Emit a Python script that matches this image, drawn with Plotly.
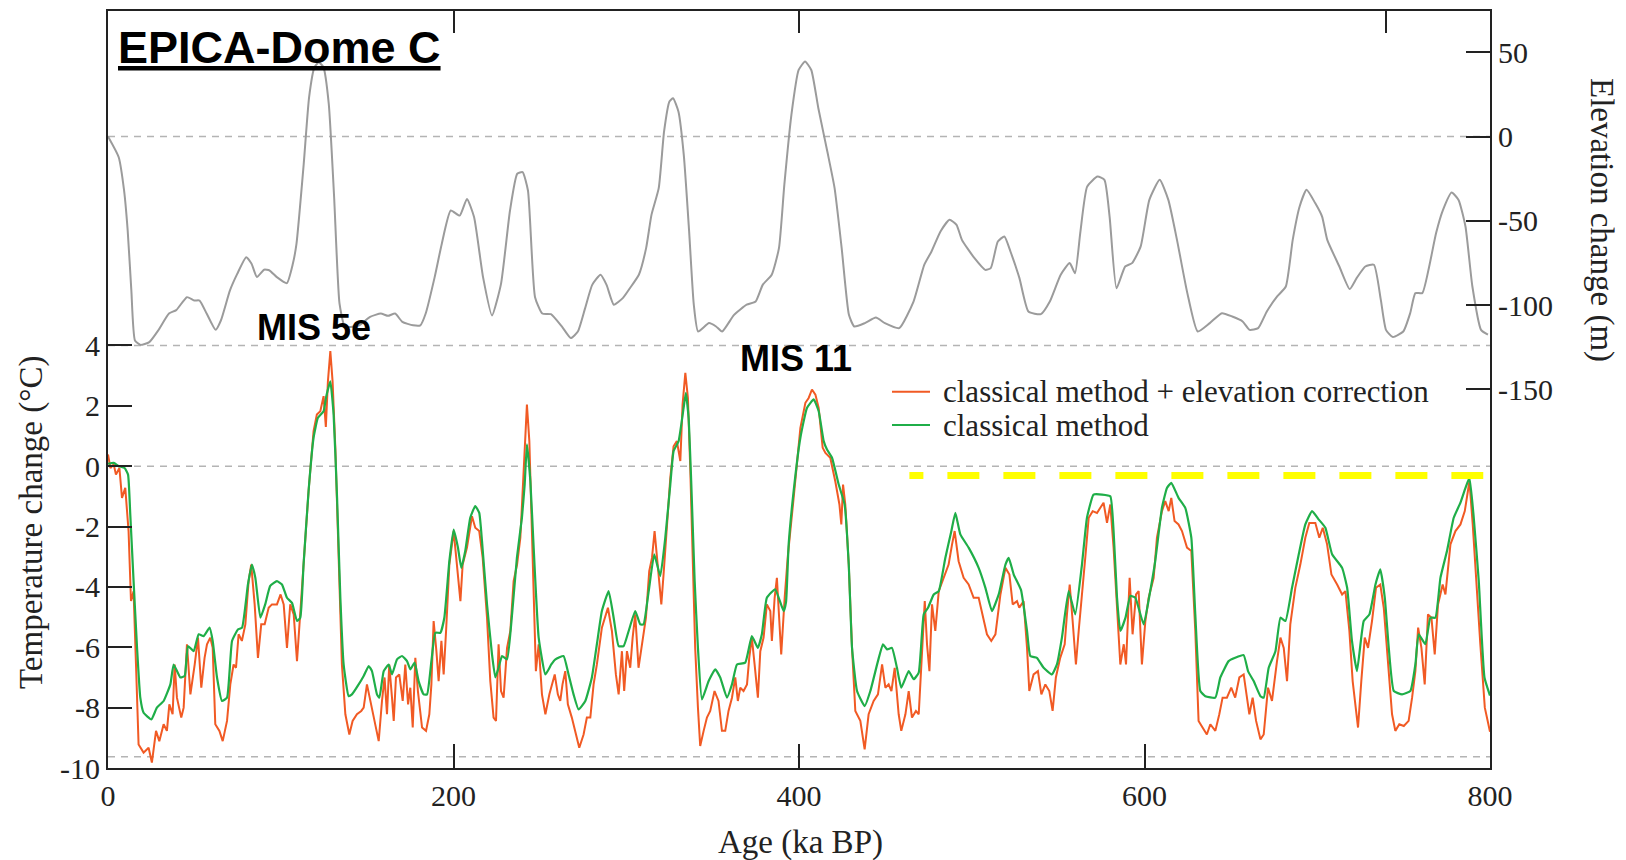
import plotly.graph_objects as go

# ---------------- data ----------------
elev_age = [
    0, 6.2, 9.3, 11.4, 13.5, 15.6, 18.7, 23.9, 29.1, 35.3,
    39.5, 45.7, 49.9, 53, 57.1, 62.3, 65.4, 70.6, 74.8, 80,
    83.1, 86.2, 90.4, 93.5, 97.7, 103.5, 107, 109.1, 113.3, 116.4,
    119.5, 122, 124.7, 127.8, 130.9, 134, 137.1, 140.2, 145.4, 151.7,
    157.9, 162.1, 166.2, 170.4, 176.6, 180.8, 183.9, 189.1, 193.2, 198.4,
    203.6, 207.8, 211.9, 217.1, 222.3, 227.5, 232.7, 236.9, 240, 243.1,
    247.2, 251.4, 256.4, 262.7, 267.9, 272, 276.2, 280.3, 285.1, 288.6,
    292.8, 298, 302.1, 307.3, 311.5, 314.6, 318.8, 321.9, 325, 327.1,
    330.2, 333.3, 336.4, 339.1, 341.6, 347.9, 352, 355.5, 362.4, 369.7,
    374.9, 379, 384.2, 388.4, 391.5, 395.6, 399.8, 403.5, 407.1, 411.2,
    416.4, 420.6, 424.7, 428.9, 432, 438.2, 444.5, 449.7, 458, 466.3,
    472.5, 476.7, 481.9, 487.1, 491.2, 494.3, 501.6, 507.8, 511, 515.1,
    518.9, 522.4, 527.6, 532.8, 540, 545.2, 551.5, 556.7, 559.8, 562.8,
    566.8, 572.8, 576.8, 579.8, 583.8, 588.8, 592.8, 597.8, 602.8, 608.8,
    613.8, 618.8, 624.8, 630.8, 637.8, 644.8, 650.8, 656.8, 660.8, 665.8,
    670.8, 676.8, 681.8, 685.8, 689.8, 693.8, 698.8, 702.8, 705.8, 712.8,
    718.8, 722.8, 727.8, 732.8, 736.8, 739.8, 743.8, 749.8, 753.8, 756.8,
    760.8, 764.8, 768.8, 772.8, 777.8, 781.8, 785.8, 789.8, 794.8, 798.8,
]
elev_m = [
    0, -12.3, -32, -55.8, -91, -121, -123.6, -122, -115, -105,
    -103, -95.3, -97.3, -97.3, -105, -114.7, -109, -91.3, -81.5, -71.6,
    -75.5, -83.4, -79, -79.5, -83.4, -87, -75.5, -63.7, -16.2, 23.3,
    41.1, 44.1, 41.1, 19.4, -36, -99, -113, -113, -112, -107,
    -105, -106.4, -105, -110, -112, -112, -105, -83.4, -63.7, -43.9,
    -46.9, -37, -47.8, -83.4, -106.2, -87.4, -43.9, -22.1, -21.1, -32,
    -95.3, -105, -105.4, -112.7, -119.6, -115.7, -101.8, -88, -82, -88,
    -99.8, -95.9, -90, -82, -66.2, -46.5, -30.6, 3, 20.8, 22.7,
    14.8, -10.9, -56.3, -99.8, -115.7, -110.7, -112.7, -115.7, -105.8, -99.8,
    -97.9, -88, -82, -66.2, -28.7, 12.9, 39.5, 44.5, 39.5, 16.8,
    -8.9, -30.6, -66.2, -105.8, -112.7, -110.7, -107.4, -110.7, -113.7, -97.9,
    -76.1, -68.2, -56.3, -49.4, -52.4, -61.3, -72.2, -79.1, -78.1, -62.3,
    -59.3, -68.2, -84, -103.8, -105.4, -97.9, -82, -75.1, -81.1, -57.3,
    -29.7, -23.7, -25.7, -47.5, -90, -77.1, -75.1, -65.2, -37.6, -25.7,
    -37.6, -61.3, -92.9, -115.7, -110.7, -104.8, -106.8, -109.7, -114.7, -113.7,
    -103.8, -94.9, -89, -61.3, -41.5, -31.6, -39.5, -47.5, -61.3, -77.1,
    -90.5, -84, -77.1, -76.1, -96.9, -114.7, -119, -115.7, -104.8, -92.9,
    -92.9, -77.1, -57.3, -43.5, -33.2, -37.6, -53.4, -89, -114.7, -117.6,
]

classic_age = [
    0, 3.3, 6.2, 9.6, 11.6, 12.9, 14.8, 16.8, 18.7, 20.6,
    25.1, 28.3, 32.2, 36.1, 38, 41.9, 44.4, 46.3, 49.6, 52.5,
    55.4, 58.8, 60.6, 63.1, 66, 68.9, 71.8, 75.2, 77.6, 81,
    83.3, 85.3, 88.2, 91, 93.9, 97.8, 100.7, 103.6, 106.5, 109.4,
    111.3, 113.2, 116.1, 119, 121.5, 124.8, 126.3, 128.7, 130.6, 132.6,
    134.5, 136.4, 139.3, 141.2, 145.1, 148, 150.9, 152.8, 155.7, 157.1,
    159.6, 162.5, 164.4, 167.3, 170.2, 173.1, 175, 177.5, 179.8, 182.7,
    184.7, 187.2, 189.5, 192.4, 194.7, 197.6, 200.1, 202.6, 204.5, 206.8,
    209.7, 212.6, 214.9, 216.5, 219.4, 222.3, 224.2, 226.1, 228.1, 231,
    233.9, 236.7, 239.6, 241.2, 242.5, 244.5, 246.4, 249.3, 253.2, 256.6,
    259, 263.7, 266.6, 269.5, 272.4, 276.3, 280.1, 283, 285.9, 289.8,
    292.7, 295.6, 298.5, 301.4, 305.2, 308.1, 310, 313, 316.2, 319.7,
    322.6, 325.5, 327.4, 330.3, 333.2, 334.5, 336.1, 337.6, 339.6, 341.5,
    343.8, 347.7, 351.5, 354.4, 358.3, 361.2, 364.1, 368.9, 372.7, 376.2,
    378.5, 381.4, 386.2, 391.1, 392.5, 394, 396.9, 400.8, 404.6, 408.5,
    411.4, 414.3, 416.2, 419.1, 423, 426.4, 428.8, 430.7, 433.6, 438,
    441.3, 445.7, 448.6, 451, 453.8, 456.7, 459.2, 463.5, 466.4, 469.3,
    472.2, 474.7, 478, 480.9, 484.7, 488.2, 490.5, 493.4, 498.2, 504,
    507.9, 511.7, 515.6, 519.5, 521.4, 524.3, 528.5, 532, 533.9, 537.7,
    541.6, 546.4, 549.3, 552.2, 556.1, 559.9, 563.8, 566.7, 570.5, 575.4,
    580.2, 582.1, 584.1, 586, 589, 591.8, 594.7, 599.5, 603.3, 606.2,
    610.1, 613, 615.5, 619.7, 623.6, 627.1, 629.4, 632.3, 635.2, 641,
    643.9, 648.7, 652.5, 657.4, 660, 663.2, 667.1, 669, 671.9, 675.8,
    678.7, 681.6, 685.4, 689.3, 693.1, 697, 700.9, 704.7, 708.6, 714.4,
    717.3, 720.1, 723, 726.9, 730.2, 733.7, 736.5, 739.1, 741.4, 744.3,
    749.1, 753.9, 756.8, 758.7, 762.6, 765.5, 768.4, 771.3, 775.1, 779,
    782.9, 785.8, 788.1, 790.6, 793.5, 796.8, 800,
]
classic_dt = [
    0.08, 0.11, 0, -0.06, -0.28, -1.6, -3.8, -6.0, -7.67, -8.17,
    -8.39, -8.0, -7.78, -7.23, -6.57, -7.0, -6.95, -5.96, -6.13, -5.57,
    -5.63, -5.35, -5.79, -7.0, -7.78, -7.67, -5.79, -5.41, -5.35, -3.92,
    -3.26, -3.70, -5.02, -4.58, -3.97, -3.81, -3.92, -4.36, -4.53, -5.13,
    -5.02, -3.26, -0.83, 0.94, 1.60, 1.82, 2.3, 2.81, 1.71, -1.05,
    -4.36, -6.57, -7.62, -7.56, -7.23, -6.95, -6.62, -6.79, -7.56, -7.67,
    -6.79, -6.57, -6.9, -6.4, -6.29, -6.46, -6.73, -6.51, -7.12, -7.56,
    -7.56, -6.46, -5.52, -5.52, -5.02, -3.15, -2.10, -2.70, -3.37, -2.81,
    -1.71, -1.32, -1.55, -2.48, -4.58, -6.24, -7.0, -6.68, -6.29, -6.4,
    -4.91, -3.04, -1.71, -0.61, 0.72, -0.50, -2.70, -5.68, -6.90, -6.57,
    -6.4, -6.29, -6.90, -7.56, -8.06, -7.78, -7.0, -5.9, -4.80, -4.14,
    -5.02, -5.96, -5.96, -5.46, -4.80, -5.24, -5.24, -4.14, -2.92, -3.64,
    -2.37, -0.61, 0.50, 0.83, 1.93, 2.43, 1.60, -0.50, -3.81, -6.02,
    -7.73, -7.12, -6.73, -7.0, -7.67, -7.23, -6.57, -6.51, -5.63, -6.02,
    -5.57, -4.36, -4.08, -4.80, -4.5, -2.6, -0.83, 0.94, 1.93, 2.21,
    1.82, 0.83, 0.55, 0.28, -0.61, -1.27, -3.26, -6.02, -7.45, -7.95,
    -7.45, -6.46, -5.90, -6.07, -6.02, -6.68, -7.34, -6.79, -7.06, -6.84,
    -4.91, -4.69, -4.25, -4.14, -3.04, -2.15, -1.55, -2.26, -2.70, -3.37,
    -4.03, -4.80, -4.25, -3.26, -3.04, -3.59, -4.1, -5.46, -6.29, -6.35,
    -6.68, -6.90, -6.57, -5.68, -4.14, -4.91, -3.26, -1.71, -0.94, -0.94,
    -1.0, -2.15, -4.36, -5.46, -5.02, -4.30, -4.36, -5.24, -4.14, -3.15,
    -1.38, -0.72, -0.55, -1.05, -1.38, -2.37, -4.91, -7.45, -7.62, -7.67,
    -7.0, -6.46, -6.35, -6.26, -6.8, -7.12, -7.62, -7.67, -6.68, -6.13,
    -5.02, -5.13, -4.03, -2.92, -1.93, -1.49, -1.77, -2.04, -2.92, -3.37,
    -4.03, -5.79, -6.79, -5.13, -4.91, -3.92, -3.42, -4.36, -6.02, -7.45,
    -7.56, -7.45, -6.57, -5.57, -5.90, -5.02, -5.02, -3.70, -2.81, -1.71,
    -1.21, -0.72, -0.39, -1.71, -3.81, -7.0, -7.6,
]

corrected_age = [
    0, 1.4, 3.3, 4.6, 6.6, 8.1, 10, 11.9, 13.3, 14.8,
    16.2, 17.7, 20.6, 23.5, 25.4, 27.8, 29.7, 32.2, 34.1, 35.5,
    37.4, 38.6, 39.9, 42.4, 43.8, 45.7, 47.7, 49, 50.2, 52.1,
    54, 55.9, 57.3, 59.2, 60.6, 62.1, 64.5, 66.4, 68.9, 70.8,
    72.7, 74.1, 75.6, 77.5, 79.5, 81.4, 82.9, 84.9, 86.8, 88.7,
    90.7, 93, 94.9, 97.8, 99.9, 101.7, 103.6, 105.5, 107.5, 109.4,
    111.3, 113.2, 116.1, 119, 120.9, 122.9, 124.8, 126.1, 127.3, 128.7,
    130, 131.6, 133.5, 135.4, 137.4, 139.7, 141.6, 144.1, 146.6, 148,
    149.9, 151.8, 154.4, 156.7, 158.6, 160.1, 161.5, 162.8, 164.4, 165.4,
    166.7, 168.6, 170.6, 172.1, 173.7, 175, 176.4, 177.9, 179.4, 181.8,
    184.1, 186, 187.2, 188.5, 190.1, 191.4, 193, 194.3, 195.7, 197.6,
    200.1, 202, 204, 205.3, 207.8, 210.7, 212.6, 214.9, 216.9, 219.4,
    221.3, 223.2, 224.6, 226.1, 227.5, 229, 231, 232.9, 234.8, 236.8,
    238.7, 240.6, 242.5, 243.9, 245.8, 247.7, 249.3, 251.2, 253.2, 255.5,
    258.6, 260.4, 261.8, 263.1, 264.7, 266.2, 268.5, 270.5, 272.8, 275.3,
    277.2, 279.2, 281.1, 283, 285.9, 289.4, 291.7, 294, 295.6, 297.5,
    298.8, 300.4, 302.3, 303.7, 305.2, 307.1, 309.5, 311.4, 313.3, 314.9,
    316.4, 317.8, 319.1, 320.3, 321.6, 323.5, 325.5, 327.4, 329.3, 331.3,
    332.6, 334.2, 335.7, 337.1, 338.4, 339.9, 341.5, 342.8, 344.8, 346.7,
    348.6, 351.1, 353.4, 355.4, 357.3, 359.2, 361.2, 363.1, 364.6, 366,
    367.9, 369.9, 371.2, 372.7, 374.3, 376.2, 377.6, 379.5, 381.4, 383.4,
    384.3, 385.9, 387.2, 388.6, 389.7, 391.7, 393.5, 396.9, 400.8, 403.7,
    405.6, 407.5, 409.5, 411.4, 413.7, 415.3, 418.1, 421, 423.4, 424.5,
    425.5, 426.8, 428.8, 430.7, 432.6, 435.5, 438, 440.3, 443.2, 445.7,
    448.1, 450, 451.9, 453.5, 455.4, 457.7, 459.2, 461.6, 463.5, 465.4,
    467.7, 469.3, 471.2, 472.8, 474.1, 475.5, 477, 478.9, 480.9, 483.8,
    486.6, 488.6, 490.1, 492.4, 495.3, 498.2, 501.1, 504, 506.3, 508.8,
    511.3, 513.7, 516.6, 519.5, 521.8, 523.7, 526.2, 527.5, 530, 532,
    533.3, 535.8, 538.3, 540.3, 542.6, 544.9, 546.8, 548.7, 551.2, 553.8,
    555.1, 556.7, 558.4, 560.3, 561.9, 563.8, 565.7, 567.7, 570, 572.5,
    574.4, 576.3, 578.3, 580.2, 582.1, 584.1, 586, 588, 589.3, 591.4,
    593.1, 595.1, 596.6, 598.5, 600.5, 602.4, 605.3, 607.2, 610.1, 612,
    614, 615.5, 617.4, 619.7, 621.7, 624.6, 627.1, 629.4, 631.3, 633.6,
    636.1, 638.1, 641, 643.3, 645.2, 647.7, 650.2, 652.5, 654.9, 657.4,
    659.3, 660.7, 662.6, 664.6, 667.1, 669, 671.5, 673.8, 676.7, 678.7,
    680.6, 682.5, 684.4, 687.3, 690.2, 693.1, 695.4, 698.9, 701.2, 703.2,
    705.7, 708.2, 711.5, 714.4, 716.3, 718.6, 720.5, 723.6, 725.5, 727.5,
    729.4, 731.7, 734, 736.5, 738.5, 741, 743.3, 745.2, 747.5, 750.1,
    752.9, 754.9, 756.8, 758.4, 760.3, 762.2, 764.1, 766.1, 768, 769.9,
    772.6, 774.2, 777.1, 780, 782.9, 785.4, 788.1, 790, 792.5, 794.4,
    797, 799, 800,
]
corrected_dt = [
    0.39, -0.06, 0.06, -0.28, -0.06, -1.05, -0.72, -2.15, -4.47, -4.14,
    -6.57, -9.22, -9.49, -9.33, -9.82, -8.77, -9.11, -8.55, -8.77, -7.89,
    -8.22, -6.57, -7.67, -8.33, -8.0, -5.90, -7.56, -7.12, -6.57, -5.68,
    -7.34, -6.35, -5.90, -5.68, -6.02, -8.55, -8.77, -9.11, -8.44, -7.23,
    -6.57, -6.68, -5.57, -5.79, -5.24, -3.81, -3.26, -4.58, -6.35, -5.24,
    -5.24, -4.69, -4.58, -4.58, -4.25, -4.58, -6.02, -4.58, -4.91, -6.46,
    -4.91, -3.26, -0.83, 1.16, 1.71, 1.82, 2.32, 1.3, 2.81, 3.81,
    2.81, 0.61, -3.26, -6.57, -8.22, -8.89, -8.44, -8.22, -8.11, -8.0,
    -7.23, -7.78, -8.44, -9.11, -7.78, -7.0, -8.22, -6.57, -7.67, -8.44,
    -7.0, -6.90, -7.78, -6.57, -7.89, -7.34, -8.66, -6.35, -7.45, -8.66,
    -8.77, -8.22, -7.23, -5.13, -6.13, -7.12, -5.79, -6.90, -5.46, -3.26,
    -2.15, -3.26, -4.47, -3.26, -2.70, -1.66, -2.04, -2.15, -3.04, -5.02,
    -7.12, -8.33, -8.44, -5.90, -7.45, -7.67, -6.02, -5.46, -3.81, -3.26,
    -2.37, -0.17, 2.04, 0.83, -2.59, -6.79, -5.90, -7.56, -8.22, -7.56,
    -6.90, -7.56, -7.78, -7.23, -6.79, -7.89, -8.33, -8.77, -9.33, -8.89,
    -8.33, -8.33, -7.23, -6.57, -5.35, -4.69, -5.46, -6.90, -7.56, -6.13,
    -7.45, -6.13, -6.68, -5.68, -4.91, -6.68, -5.79, -5.02, -3.48, -3.04,
    -2.15, -3.04, -3.92, -4.58, -3.59, -1.93, -0.39, 0.66, 0.83, 0.17,
    2.04, 3.09, 2.26, -0.17, -3.26, -6.02, -8.0, -9.27, -8.77, -8.33,
    -8.11, -7.45, -7.78, -8.77, -8.77, -8.11, -7.67, -7.0, -7.78, -7.34,
    -7.45, -7.23, -6.35, -5.68, -6.57, -7.67, -6.13, -5.68, -4.58, -4.80,
    -5.79, -4.36, -3.70, -5.13, -6.24, -4.36, -3.0, -1.05, 1.27, 2.10,
    2.26, 2.54, 2.37, 1.93, 0.61, 0.44, 0.28, -0.50, -1.27, -1.93,
    -0.61, -1.27, -3.26, -6.02, -8.11, -8.44, -9.38, -8.22, -7.78, -7.56,
    -6.57, -7.34, -7.23, -7.45, -6.68, -8.22, -8.77, -8.22, -7.45, -8.33,
    -8.11, -8.22, -6.02, -4.47, -5.90, -6.79, -4.58, -5.46, -4.14, -3.70,
    -3.26, -2.59, -2.15, -3.15, -3.70, -3.92, -4.36, -4.36, -4.91, -5.57,
    -5.79, -5.57, -4.25, -3.37, -3.59, -4.58, -4.47, -4.69, -4.47, -6.02,
    -7.45, -6.90, -6.79, -7.56, -7.23, -7.45, -8.11, -7.0, -6.35, -5.90,
    -4.91, -3.92, -5.13, -6.57, -5.46, -4.36, -3.04, -1.71, -1.49, -1.55,
    -1.38, -1.21, -1.88, -1.27, -2.70, -4.91, -6.57, -5.90, -6.57, -3.70,
    -5.57, -4.25, -4.14, -6.57, -5.13, -4.36, -3.70, -2.37, -1.49, -1.16,
    -1.49, -1.05, -1.82, -1.93, -2.15, -2.70, -2.81, -5.46, -8.44, -8.66,
    -8.89, -8.55, -8.77, -8.22, -7.67, -7.67, -7.34, -7.67, -7.0, -6.90,
    -7.67, -8.22, -7.67, -8.44, -9.05, -8.89, -7.34, -7.78, -6.46, -5.68,
    -6.02, -7.12, -5.24, -4.03, -3.26, -2.37, -1.88, -1.88, -2.37, -2.04,
    -2.59, -3.59, -3.92, -4.25, -4.14, -5.46, -7.12, -8.66, -7.12, -5.68,
    -6.02, -5.13, -4.03, -3.92, -4.69, -6.57, -8.22, -8.77, -8.55, -8.61,
    -8.44, -7.67, -6.79, -5.35, -6.02, -7.23, -4.91, -5.02, -6.24, -4.58,
    -3.92, -4.25, -2.59, -2.15, -1.93, -1.49, -0.50, -1.93, -4.36, -5.90,
    -8.0, -8.6, -8.8,
]

# present-day reference level (yellow dashes) and dashed guide levels
ref_age = [463.9, 796.1]
ref_dt = [-0.31, -0.31]
temp_guides = [4, 0, -9.63]
elev_guides = [0]

age_ticks = [0, 200, 400, 600, 800]
top_ticks = [200, 400, 740]
temp_ticks = [4, 2, 0, -2, -4, -6, -8, -10]
elev_ticks = [50, 0, -50, -100, -150]

legend_labels = ["classical method + elevation correction", "classical method"]

# ---------------- layout geometry (pixels) ----------------
W, H = 1626, 860
L, R, T, B = 108, 1490, 11, 768


def xp(px):
    return (px - L) / (R - L)


def yp(py):
    return (B - py) / (B - T)


RED = "#f15a24"
GREEN = "#1fae48"
GRAY = "#9b9b9b"
INK = "#222222"
SERIF = "Liberation Serif, Times New Roman, serif"
SANS = "Liberation Sans, Arial, sans-serif"

fig = go.Figure()

fig.add_trace(go.Scatter(
    x=elev_age, y=elev_m, xaxis="x2", yaxis="y2", mode="lines",
    name="elevation change", showlegend=False,
    line=dict(color=GRAY, width=2, shape="spline", smoothing=0.5),
))
fig.add_trace(go.Scatter(
    x=corrected_age, y=corrected_dt, mode="lines",
    name=legend_labels[0], showlegend=False,
    line=dict(color=RED, width=2),
))
fig.add_trace(go.Scatter(
    x=classic_age, y=classic_dt, mode="lines",
    name=legend_labels[1], showlegend=False,
    line=dict(color=GREEN, width=2.2, shape="spline", smoothing=0.4),
))
fig.add_trace(go.Scatter(
    x=ref_age, y=ref_dt, mode="lines", showlegend=False, name="reference",
    line=dict(color="#ffff00", width=7,
              dash="14px,24px" + ",32px,24px" * 10),
))

shapes = []
for g in temp_guides:
    shapes.append(dict(type="line", xref="paper", x0=0, x1=1, yref="y", y0=g, y1=g,
                       line=dict(color="#b4b4b4", width=1.5, dash="7px,6px"), layer="below"))
for g in elev_guides:
    shapes.append(dict(type="line", xref="paper", x0=0, x1=1, yref="y2", y0=g, y1=g,
                       line=dict(color="#b4b4b4", width=1.5, dash="7px,6px"), layer="below"))
# legend samples
for col, py in ((RED, 391.7), (GREEN, 425)):
    shapes.append(dict(type="line", xref="paper", yref="paper",
                       x0=xp(892), x1=xp(930), y0=yp(py), y1=yp(py),
                       line=dict(color=col, width=2)))

annotations = [
    dict(text="<b><u>EPICA-Dome C</u></b>", x=xp(116), y=yp(47), xanchor="left", yanchor="middle",
         font=dict(family=SANS, size=45, color="#000000"), showarrow=False,
         xref="paper", yref="paper"),
    dict(text="<b>MIS 5e</b>", x=xp(313.5), y=yp(327), xanchor="center", yanchor="middle",
         font=dict(family=SANS, size=36, color="#000000"), showarrow=False,
         xref="paper", yref="paper"),
    dict(text="<b>MIS 11</b>", x=xp(795.5), y=yp(358), xanchor="center", yanchor="middle",
         font=dict(family=SANS, size=36, color="#000000"), showarrow=False,
         xref="paper", yref="paper"),
    dict(text="Temperature change (°C)", x=xp(31), y=yp(523), textangle=-90,
         xanchor="center", yanchor="middle", font=dict(family=SERIF, size=33, color=INK),
         showarrow=False, xref="paper", yref="paper"),
    dict(text="Elevation change (m)", x=xp(1602), y=yp(220), textangle=90,
         xanchor="center", yanchor="middle", font=dict(family=SERIF, size=33, color=INK),
         showarrow=False, xref="paper", yref="paper"),
    dict(text="Age (ka BP)", x=xp(800), y=yp(842), xanchor="center", yanchor="middle",
         font=dict(family=SERIF, size=33, color=INK), showarrow=False,
         xref="paper", yref="paper"),
]
for lab, py in zip(legend_labels, (391.7, 425)):
    annotations.append(dict(text=lab, x=xp(941), y=yp(py), xanchor="left", yanchor="middle",
                            font=dict(family=SERIF, size=31, color=INK), showarrow=False,
                            xref="paper", yref="paper"))

axis_common = dict(showline=True, linecolor=INK, linewidth=2, ticks="inside",
                   ticklen=24, tickwidth=2, tickcolor=INK, showgrid=False, zeroline=False,
                   tickfont=dict(family=SERIF, size=30, color=INK))

fig.update_layout(
    width=W, height=H,
    margin=dict(l=L, r=W - R, t=T, b=H - B, pad=0),
    paper_bgcolor="white", plot_bgcolor="white",
    showlegend=False,
    xaxis=dict(range=[0, 800], tickmode="array", tickvals=age_ticks,
               ticktext=[str(v) for v in age_ticks], **axis_common),
    xaxis2=dict(range=[0, 800], overlaying="x", side="top", anchor="y2",
                tickmode="array", tickvals=top_ticks, showticklabels=False,
                showline=True, linecolor=INK, linewidth=2, ticks="inside",
                ticklen=22, tickwidth=2, tickcolor=INK, showgrid=False, zeroline=False),
    yaxis=dict(range=[-10, 15.08], tickmode="array", tickvals=temp_ticks,
               ticktext=[str(v) for v in temp_ticks], **axis_common),
    yaxis2=dict(range=[-374.7, 74.5], overlaying="y", side="right", anchor="x2",
                tickmode="array", tickvals=elev_ticks,
                ticktext=[str(v) for v in elev_ticks], **axis_common),
    shapes=shapes,
    annotations=annotations,
)

fig.write_html("out.html")
